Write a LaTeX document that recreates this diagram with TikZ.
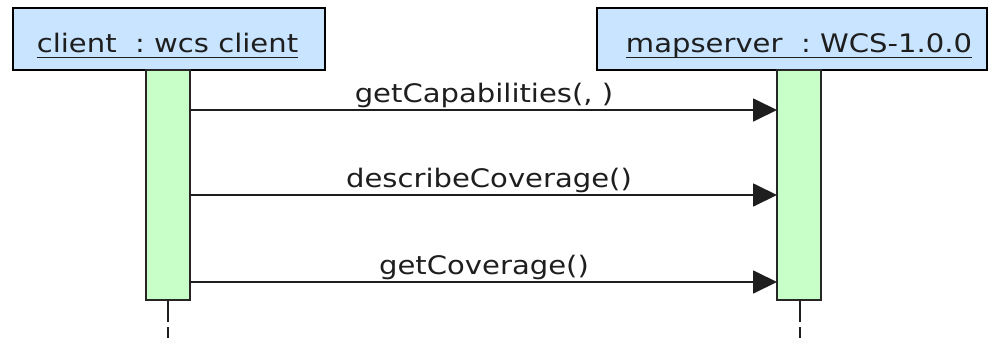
\documentclass[tikz,border=0pt]{standalone}
\usepackage{fontspec}
\usetikzlibrary{arrows.meta,calc}
\newfontfamily\umlfont[FakeStretch=1.14]{DejaVu Sans}
\definecolor{headblue}{RGB}{200,228,255}
\definecolor{barGreen}{RGB}{200,255,200}
\definecolor{inkgray}{RGB}{30,30,30}
\tikzset{
  header/.style={draw=black, line width=2pt, fill=headblue},
  actbar/.style={draw=black!85, line width=2pt, fill=barGreen},
  hdtext/.style={font=\umlfont\fontsize{25.5}{28}\selectfont, text=inkgray, inner sep=0pt, anchor=base},
  msgtext/.style={font=\umlfont\fontsize{25.5}{28}\selectfont, text=inkgray, inner sep=0pt, anchor=base},
  msg/.style={draw=inkgray, line width=1.8pt, -{Triangle[length=24pt,width=23pt]}},
  lifeline/.style={draw=inkgray, line width=2.2pt, dash pattern=on 22pt off 5pt},
  uline/.style={draw=inkgray, line width=1.5pt}
}
\begin{document}
\begin{tikzpicture}[x=1pt,y=-1pt]
\useasboundingbox (0,0) rectangle (988,338);
% lifeline heads
\draw[header] (13,8) rectangle (325,70);
\draw[header] (597,8) rectangle (987,70);
\node[hdtext] (cname) at (167.5,52) {client\ \ :\ wcs client};
\node[hdtext] (sname) at (799,52) {mapserver\ \ :\ WCS-1.0.0};
\draw[uline] ($(cname.base west)+(0,5.5)$) -- ($(cname.base east)+(0,5.5)$);
\draw[uline] ($(sname.base west)+(0,5.5)$) -- ($(sname.base east)+(0,5.5)$);
% dashed lifelines below the activation bars
\coordinate (cend) at (168,338);
\coordinate (send) at (800,338);
\coordinate (ctop) at (168,300);
\coordinate (stop) at (800,300);
\draw[lifeline] (ctop) -- (cend);
\draw[lifeline] (stop) -- (send);
% activation bars
\draw[actbar] (146,70) rectangle (190,300);
\draw[actbar] (777,70) rectangle (821,300);
% message anchors
\coordinate (c1) at (190,110);
\coordinate (s1) at (777,110);
\coordinate (c2) at (190,195);
\coordinate (s2) at (777,195);
\coordinate (c3) at (190,282);
\coordinate (s3) at (777,282);
\draw[msg] (c1) -- (s1);
\draw[msg] (c2) -- (s2);
\draw[msg] (c3) -- (s3);
\node[msgtext] (m1) at (484,102) {getCapabilities(, )};
\node[msgtext] (m2) at (489,187) {describeCoverage()};
\node[msgtext] (m3) at (484,274) {getCoverage()};
\end{tikzpicture}
\end{document}
